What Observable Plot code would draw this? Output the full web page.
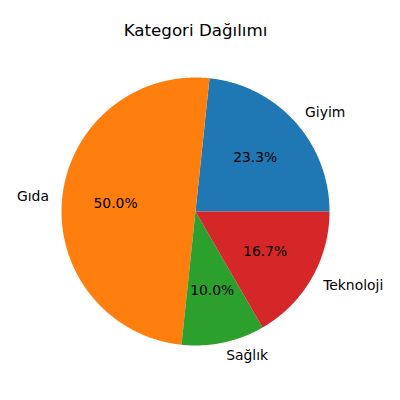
<!DOCTYPE html>
<html>
<head>
<meta charset="utf-8">
<script src="https://cdn.jsdelivr.net/npm/d3@7"></script>
<script src="https://cdn.jsdelivr.net/npm/@observablehq/plot@0.6"></script>
<style>
  html, body { margin: 0; padding: 0; background: #fff; }
</style>
</head>
<body>
<div id="chart"></div>
<script>
const categories = ["Giyim", "Gıda", "Sağlık", "Teknoloji"];
const values = [70, 150, 30, 50];
const colors = ["#1f77b4", "#ff7f0e", "#2ca02c", "#d62728"];
const title = "Kategori Dağılımı";

const total = d3.sum(values);
// matplotlib-style: start at 0° (east), counterclockwise
let acc = 0;
const slices = categories.map((c, i) => {
  const a0 = acc / total * 2 * Math.PI;
  acc += values[i];
  const a1 = acc / total * 2 * Math.PI;
  return {category: c, value: values[i], a0, a1, mid: (a0 + a1) / 2, pct: values[i] / total * 100};
});

const pts = [];
for (const s of slices) {
  pts.push({category: s.category, x: 0, y: 0});
  const n = Math.max(2, Math.ceil((s.a1 - s.a0) / 0.005));
  for (let k = 0; k <= n; k++) {
    const a = s.a0 + (s.a1 - s.a0) * k / n;
    pts.push({category: s.category, x: Math.cos(a), y: Math.sin(a)});
  }
  pts.push({category: s.category, x: 0, y: 0});
}

const outer = slices.map(s => ({
  label: s.category,
  x: 1.1 * Math.cos(s.mid),
  y: 1.1 * Math.sin(s.mid),
  anchor: Math.cos(s.mid) >= 0 ? "start" : "end"
}));
const inner = slices.map(s => ({
  label: s.pct.toFixed(1) + "%",
  x: 0.6 * Math.cos(s.mid),
  y: 0.6 * Math.sin(s.mid)
}));

const R = 134, cx = 195, cy = 211;
const chart = Plot.plot({
  width: 400,
  height: 400,
  margin: 0,
  style: {fontFamily: "DejaVu Sans", background: "#fff"},
  x: {domain: [-cx / R, (400 - cx) / R], range: [0, 400], axis: null},
  y: {domain: [(cy - 400) / R, cy / R], range: [400, 0], axis: null},
  color: {domain: categories, range: colors},
  marks: [
    Plot.line(pts, {x: "x", y: "y", z: "category", fill: "category", stroke: null, curve: "linear"}),
    Plot.text(outer.filter(d => d.anchor === "start"), {x: "x", y: "y", text: "label", textAnchor: "start", fontSize: 13.9, fill: "#000", lineAnchor: "middle"}),
    Plot.text(outer.filter(d => d.anchor === "end"), {x: "x", y: "y", text: "label", textAnchor: "end", fontSize: 13.9, fill: "#000", lineAnchor: "middle"}),
    Plot.text(inner, {x: "x", y: "y", text: "label", fontSize: 13.9, fill: "#000", lineAnchor: "middle"}),
    Plot.text([title], {x: [0], y: [(cy - 30) / R], text: d => d, fontSize: 16.7, fill: "#000", lineAnchor: "middle"})
  ]
});
document.getElementById("chart").appendChild(chart);
</script>
</body>
</html>
